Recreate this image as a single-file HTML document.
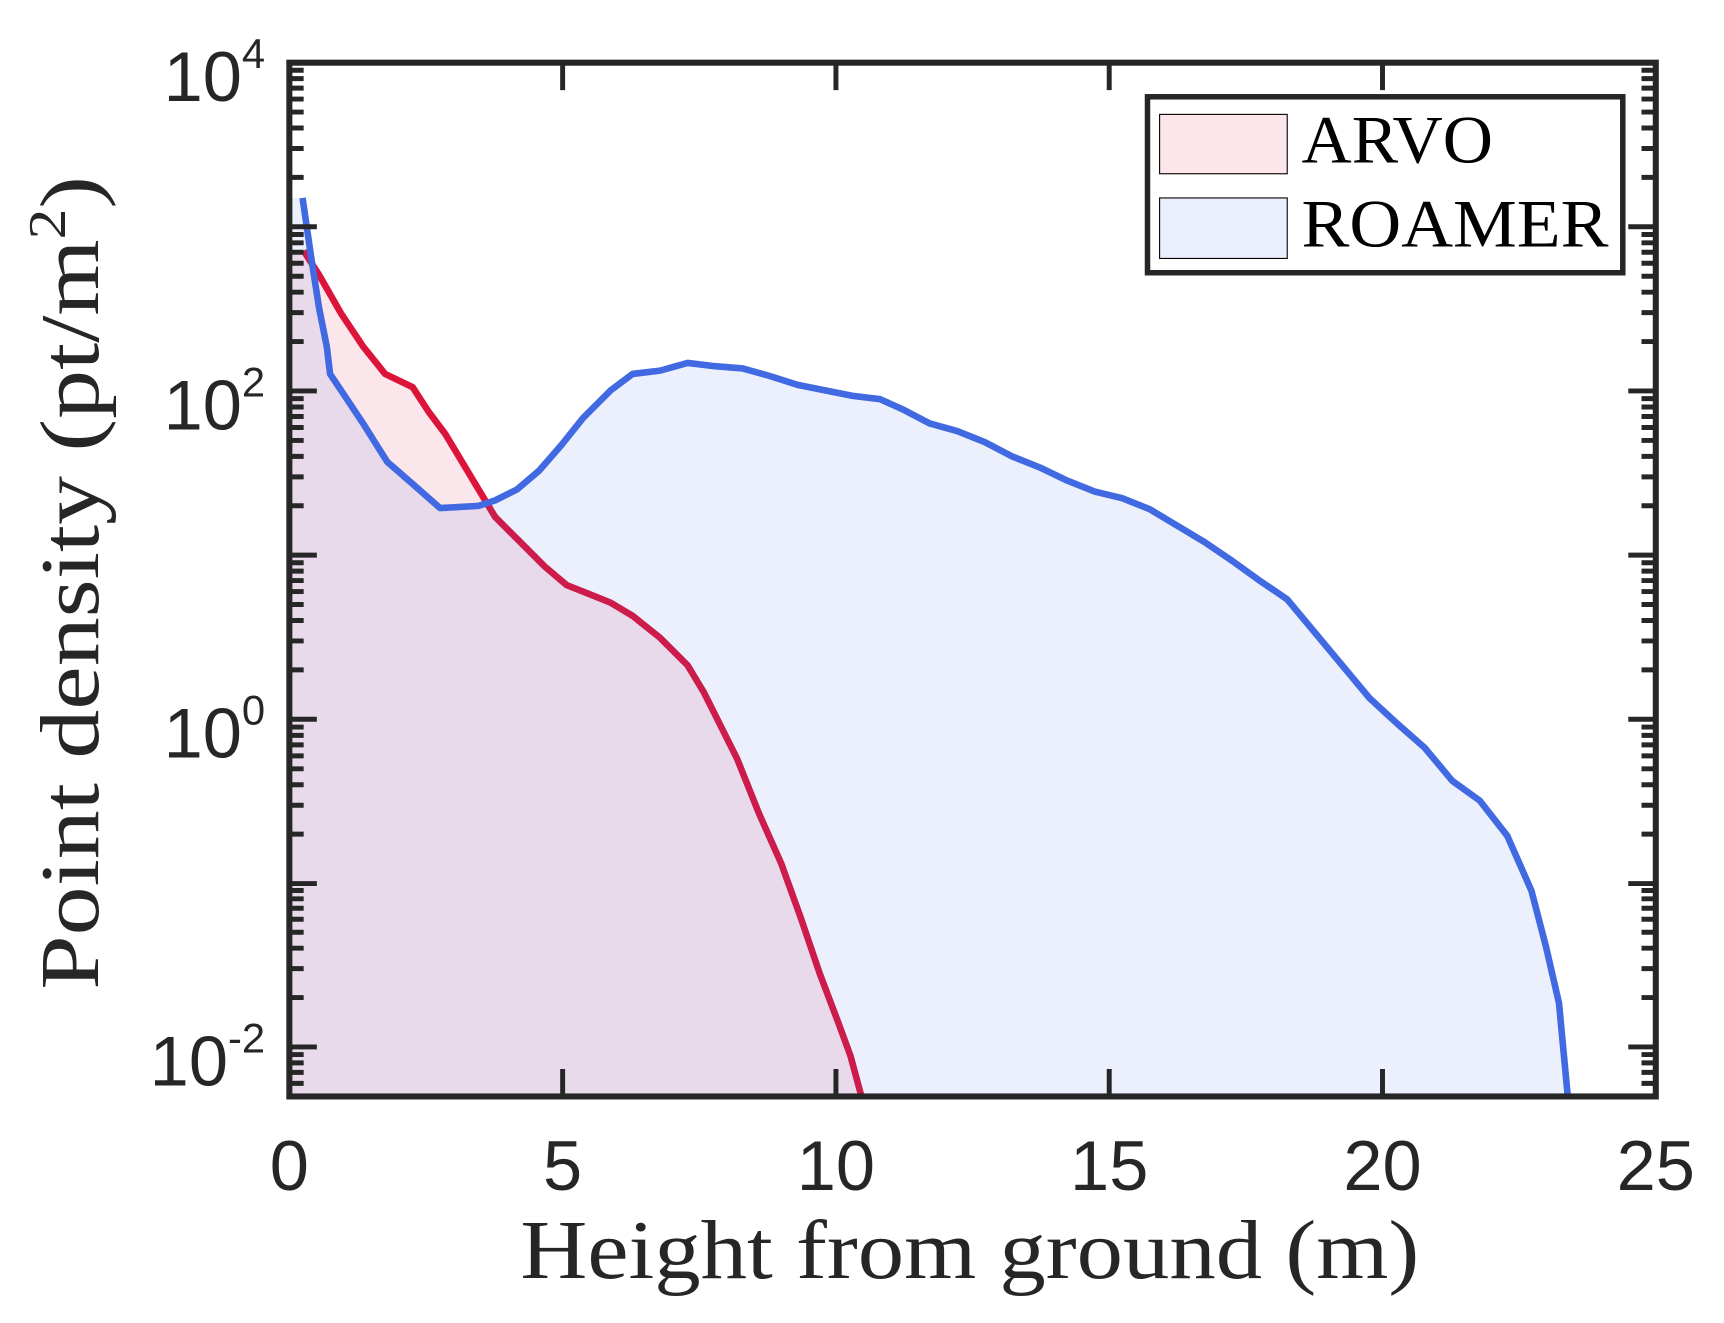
<!DOCTYPE html>
<html><head><meta charset="utf-8"><style>html,body{margin:0;padding:0;background:#fff}svg{display:block}</style></head>
<body>
<svg width="1724" height="1323" viewBox="0 0 1567 1203" preserveAspectRatio="none" xmlns="http://www.w3.org/2000/svg">
<defs><clipPath id="c"><rect x="263" y="57" width="1242" height="940"/></clipPath></defs>
<g clip-path="url(#c)">
<polygon fill="#dc143c" fill-opacity="0.1" points="263,228 276,228 290,250 310,285 330,315 350,340 375,352 390,375 405,395 420,420 435,445 450,470 470,490 495,515 515,532 535,540 555,548 575,560 600,580 625,605 640,630 655,660 670,690 690,740 710,785 728,835 745,885 762,930 773,960 783,997 263,997"/>
<polyline fill="none" stroke="#dc143c" stroke-width="6" stroke-linejoin="round" points="276,228 290,250 310,285 330,315 350,340 375,352 390,375 405,395 420,420 435,445 450,470 470,490 495,515 515,532 535,540 555,548 575,560 600,580 625,605 640,630 655,660 670,690 690,740 710,785 728,835 745,885 762,930 773,960 783,997"/>
<polygon fill="#4169e1" fill-opacity="0.1" points="263,180 275,180 283,235 290,280 297,315 300,340 312,358 330,385 352,420 375,440 400,462 435,460 450,455 470,445 490,428 510,405 530,380 555,355 575,340 600,337 625,330 650,333 675,335 700,342 725,350 750,355 775,360 800,363 820,372 845,385 870,392 895,402 920,415 945,425 970,437 995,447 1020,453 1045,463 1070,478 1095,493 1120,510 1145,528 1170,545 1195,575 1220,605 1245,635 1270,658 1295,680 1320,710 1345,728 1370,760 1392,810 1405,860 1417,912 1425,997 263,997"/>
<polyline fill="none" stroke="#4169e1" stroke-width="6" stroke-linejoin="round" points="275,180 283,235 290,280 297,315 300,340 312,358 330,385 352,420 375,440 400,462 435,460 450,455 470,445 490,428 510,405 530,380 555,355 575,340 600,337 625,330 650,333 675,335 700,342 725,350 750,355 775,360 800,363 820,372 845,385 870,392 895,402 920,415 945,425 970,437 995,447 1020,453 1045,463 1070,478 1095,493 1120,510 1145,528 1170,545 1195,575 1220,605 1245,635 1270,658 1295,680 1320,710 1345,728 1370,760 1392,810 1405,860 1417,912 1425,997"/>
</g>
<g stroke="#262626" stroke-width="4.5" fill="none">
<path d="M263 57h25M263 206.2h25M263 355.5h25M263 504.8h25M263 654h25M263 803.4h25M263 952h25M1505 57h-25M1505 206.2h-25M1505 355.5h-25M1505 504.8h-25M1505 654h-25M1505 803.4h-25M1505 952h-25"/>
<path d="M263 161.3h13M263 135h13M263 116.4h13M263 101.9h13M263 90.1h13M263 80.1h13M263 71.5h13M263 63.9h13M263 310.6h13M263 284.3h13M263 265.7h13M263 251.2h13M263 239.4h13M263 229.4h13M263 220.8h13M263 213.2h13M263 459.9h13M263 433.6h13M263 415h13M263 400.5h13M263 388.7h13M263 378.7h13M263 370.1h13M263 362.5h13M263 609.1h13M263 582.8h13M263 564.2h13M263 549.7h13M263 537.9h13M263 527.9h13M263 519.3h13M263 511.7h13M263 758.5h13M263 732.2h13M263 713.6h13M263 699.1h13M263 687.3h13M263 677.3h13M263 668.7h13M263 661.1h13M263 907.1h13M263 880.8h13M263 862.2h13M263 847.7h13M263 835.9h13M263 825.9h13M263 817.3h13M263 809.7h13M263 985.1h13M263 975.1h13M263 966.5h13M263 958.9h13"/>
<path d="M1505 161.3h-13M1505 135h-13M1505 116.4h-13M1505 101.9h-13M1505 90.1h-13M1505 80.1h-13M1505 71.5h-13M1505 63.9h-13M1505 310.6h-13M1505 284.3h-13M1505 265.7h-13M1505 251.2h-13M1505 239.4h-13M1505 229.4h-13M1505 220.8h-13M1505 213.2h-13M1505 459.9h-13M1505 433.6h-13M1505 415h-13M1505 400.5h-13M1505 388.7h-13M1505 378.7h-13M1505 370.1h-13M1505 362.5h-13M1505 609.1h-13M1505 582.8h-13M1505 564.2h-13M1505 549.7h-13M1505 537.9h-13M1505 527.9h-13M1505 519.3h-13M1505 511.7h-13M1505 758.5h-13M1505 732.2h-13M1505 713.6h-13M1505 699.1h-13M1505 687.3h-13M1505 677.3h-13M1505 668.7h-13M1505 661.1h-13M1505 907.1h-13M1505 880.8h-13M1505 862.2h-13M1505 847.7h-13M1505 835.9h-13M1505 825.9h-13M1505 817.3h-13M1505 809.7h-13M1505 985.1h-13M1505 975.1h-13M1505 966.5h-13M1505 958.9h-13"/>
<path d="M511.4 997v-25M759.8 997v-25M1008.2 997v-25M1256.6 997v-25M511.4 57v25M759.8 57v25M1008.2 57v25M1256.6 57v25"/>
<rect x="263" y="57" width="1242" height="940" stroke-width="5.5"/>
</g>
<g font-family="Liberation Sans, sans-serif" fill="#262626" font-size="64">
<text x="241" y="92" text-anchor="end">10<tspan dy="-30" font-size="38">4</tspan></text>
<text x="241" y="390.5" text-anchor="end">10<tspan dy="-30" font-size="38">2</tspan></text>
<text x="241" y="689" text-anchor="end">10<tspan dy="-30" font-size="38">0</tspan></text>
<text x="241" y="987" text-anchor="end">10<tspan dy="-30" font-size="38">-2</tspan></text>
<g text-anchor="middle" font-size="64">
<text x="263" y="1082">0</text><text x="511.4" y="1082">5</text><text x="759.8" y="1082">10</text><text x="1008.2" y="1082">15</text><text x="1256.6" y="1082">20</text><text x="1505" y="1082">25</text>
</g>
</g>
<g font-family="Liberation Serif, serif" fill="#262626">
<text x="473" y="1162" font-size="76" textLength="817" lengthAdjust="spacingAndGlyphs">Height from ground (m)</text>
<text transform="translate(89,530) rotate(-90)" text-anchor="middle" font-size="76" textLength="740" lengthAdjust="spacingAndGlyphs">Point density (pt/m<tspan dy="-30" font-size="48">2</tspan><tspan dy="30">)</tspan></text>
</g>
<rect x="1043" y="88" width="432" height="160" fill="#fff" stroke="#262626" stroke-width="5"/>
<rect x="1054" y="104" width="116" height="54" fill="#fce6ea" stroke="#000" stroke-width="1"/>
<rect x="1054" y="180" width="116" height="55" fill="#ebeffb" stroke="#000" stroke-width="1"/>
<g font-family="Liberation Serif, serif" fill="#000" font-size="62">
<text x="1183" y="148" textLength="174" lengthAdjust="spacingAndGlyphs">ARVO</text>
<text x="1183" y="224" textLength="279" lengthAdjust="spacingAndGlyphs">ROAMER</text>
</g>
</svg>
</body></html>
